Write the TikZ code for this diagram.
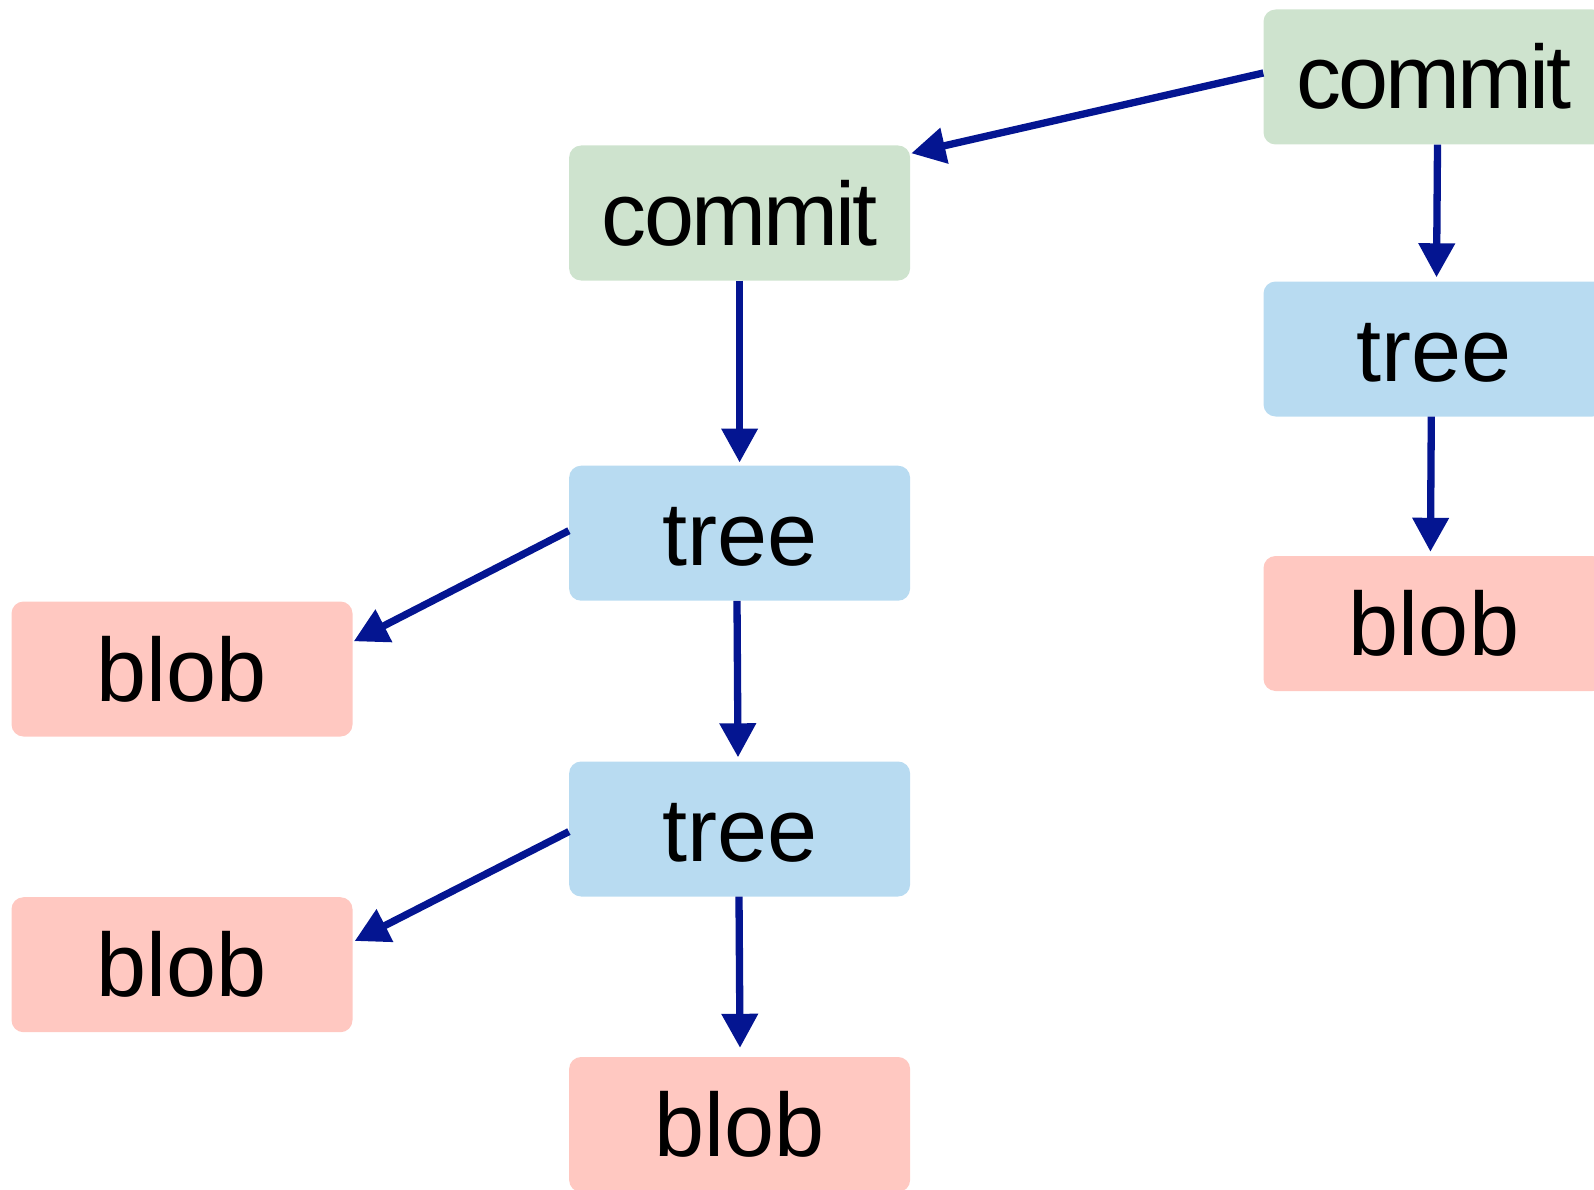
\documentclass[tikz,border=0pt]{standalone}
\usepackage{fontspec}
\setmainfont{Liberation Sans}
\usetikzlibrary{arrows.meta}
\definecolor{cgreen}{RGB}{206,227,206}
\definecolor{cblue}{RGB}{184,219,241}
\definecolor{cpink}{RGB}{255,200,193}
\definecolor{carrow}{RGB}{4,21,145}
\tikzset{
  box/.style={rectangle, rounded corners=12pt, minimum width=341pt, minimum height=135pt,
    inner sep=0pt, text height=64pt, text depth=0pt, text=black,
    font=\fontsize{90}{108}\selectfont},
  commitbox/.style={box, fill=cgreen, font=\fontsize{90}{108}\selectfont\addfontfeature{LetterSpace=-3.2}},
  treebox/.style={box, fill=cblue},
  blobbox/.style={box, fill=cpink},
  arr/.style={draw=carrow, line width=7.3pt, -{Triangle[width=35pt,length=34pt,fill=carrow]}}
}
\begin{document}
\begin{tikzpicture}[x=1pt,y=-1pt]
\useasboundingbox (0,0) rectangle (1594,1190);
\node[commitbox] (commitR) at (1434,77) {commit};
\node[treebox] (treeR) at (1434,349) {tree};
\node[blobbox] (blobR) at (1434,623.5) {blob};
\node[commitbox] (commitM) at (739.6,213) {commit};
\node[treebox] (treeM1) at (739.6,533.2) {tree};
\node[treebox] (treeM2) at (739.6,829) {tree};
\node[blobbox] (blobM) at (739.6,1124.5) {blob};
\node[blobbox] (blobL1) at (182,669) {blob};
\node[blobbox] (blobL2) at (182,964.7) {blob};

\draw[arr] ([yshift=4pt]commitR.west) -- ([xshift=1pt,yshift=-8pt]commitM.north east);
\draw[arr] ([xshift=3.5pt]commitR.south) -- ([xshift=2.5pt,yshift=4pt]treeR.north);
\draw[arr] ([xshift=-2.7pt]treeR.south) -- ([xshift=-3.6pt,yshift=4pt]blobR.north);
\draw[arr] (commitM.south) -- ([yshift=3pt]treeM1.north);
\draw[arr] ([xshift=-2.6pt]treeM1.south) -- ([xshift=-1.6pt,yshift=4pt]treeM2.north);
\draw[arr] ([xshift=-0.6pt]treeM2.south) -- ([xshift=0.4pt,yshift=9pt]blobM.north);
\draw[arr] ([yshift=2.5pt]treeM1.west) -- ([xshift=1pt,yshift=-40pt]blobL1.north east);
\draw[arr] ([yshift=-2.6pt]treeM2.west) -- ([xshift=2pt,yshift=-44pt]blobL2.north east);
\end{tikzpicture}
\end{document}
